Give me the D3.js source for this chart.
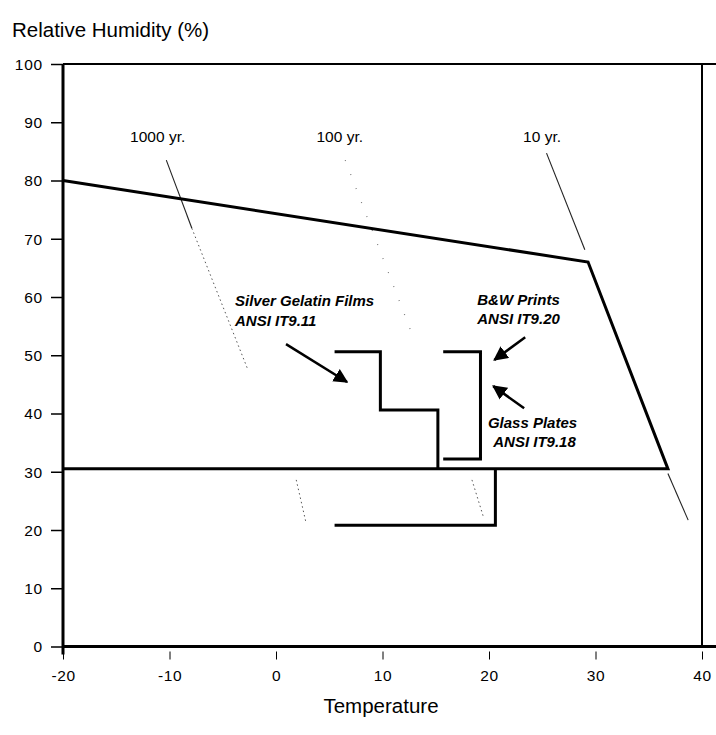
<!DOCTYPE html>
<html>
<meta charset="utf-8">
<style type="text/css">
  body {
    margin: 0;
    background: #fff;
    font-family: "Liberation Sans", Arial, sans-serif;
  }
  .tick text { font-family: "Liberation Sans", Arial, sans-serif; }
</style>
<body>
<script src="https://d3js.org/d3.v7.min.js"></script>
<div id="chart"></div>
<script>
  // axis ticks
  const xTicks = [-20, -10, 0, 10, 20, 30, 40];
  const yTicks = [0, 10, 20, 30, 40, 50, 60, 70, 80, 90, 100];

  // outer storage envelope (temperature, RH)
  const envelope = [[-20, 80], [29.3, 66], [36.8, 30.5], [-20, 30.5]];
  // silver gelatin films steps
  const silverSteps = [[5.5, 50.6], [9.8, 50.6], [9.8, 40.6], [15.2, 40.6], [15.2, 30.5]];
  // b&w prints bracket
  const bwBracket = [[15.7, 50.6], [19.2, 50.6], [19.2, 32.2], [15.7, 32.2]];
  // glass plates lower step
  const glassSteps = [[20.6, 30.5], [20.6, 20.8], [5.5, 20.8]];

  // life expectancy isolines: label, label position, visible segments
  const isoLabels = ["1000 yr.", "100 yr.", "10 yr."];
  const isoLabelPos = [[-13.7, 86.6], [3.8, 86.6], [23.2, 86.6]];
  const isoSegments = [
    [[-10.3, 83.5, -7.9, 71.8, "solid"], [-7.9, 71.8, -2.7, 47.8, "dot"], [1.9, 28.6, 2.8, 21.4, "dot"]],
    [[6.5, 83.5, 12.8, 53.5, "faint"], [18.4, 28.6, 19.5, 22.1, "dot"]],
    [[25.4, 84.7, 29.0, 68.1, "solid"], [36.8, 29.7, 38.7, 21.7, "solid"]]
  ];

  // annotations
  const labels = [
    ["Silver Gelatin Films", -3.85, 58.5],
    ["ANSI IT9.11", -3.85, 55.1],
    ["B&W Prints", 18.9, 58.6],
    ["ANSI IT9.20", 18.9, 55.3],
    ["Glass Plates", 19.9, 37.5],
    ["ANSI IT9.18", 20.4, 34.3]
  ];
  const arrows = [
    [0.94, 51.9, 6.67, 45.4],
    [23.4, 53.1, 20.5, 49.2],
    [23.3, 40.9, 20.4, 44.7]
  ];

  const width = 716, height = 735;

  const svg = d3.select("#chart").append("svg")
    .attr("width", width)
    .attr("height", height);

  const x = d3.scaleLinear().domain([-20, 40]).range([63, 702]);
  const y = d3.scaleLinear().domain([0, 100]).range([646.5, 64]);

  svg.append("defs").append("marker")
    .attr("id", "head")
    .attr("viewBox", "0 0 10 10")
    .attr("refX", 9).attr("refY", 5)
    .attr("markerWidth", 5.8).attr("markerHeight", 5.8)
    .attr("markerUnits", "strokeWidth")
    .attr("orient", "auto")
    .append("path")
    .attr("d", "M0,0 L10,5 L0,10 z")
    .attr("fill", "#000");

  // title and axis label
  svg.append("text")
    .attr("x", 12).attr("y", 37)
    .style("font-size", "20.5px")
    .text("Relative Humidity (%)");

  svg.append("text")
    .attr("x", 381).attr("y", 713)
    .attr("text-anchor", "middle")
    .style("font-size", "20.5px")
    .text("Temperature");

  // y axis
  const yAxis = svg.append("g")
    .attr("transform", "translate(" + x(-20) + ",0)")
    .call(d3.axisLeft(y).tickValues(yTicks).tickFormat(d => String(d)).tickSize(12).tickPadding(8));
  yAxis.select(".domain").remove();
  yAxis.selectAll(".tick line").attr("stroke-width", 1.5);
  yAxis.selectAll(".tick text").style("font-size", "15.5px").style("letter-spacing", "0.8px").attr("dy", "0.35em");

  // x axis
  const xAxis = svg.append("g")
    .attr("transform", "translate(0," + (y(0) + 5) + ")")
    .call(d3.axisBottom(x).tickValues(xTicks).tickFormat(d => String(d)).tickSize(8).tickPadding(10));
  xAxis.select(".domain").remove();
  xAxis.selectAll(".tick line").attr("stroke-width", 1);
  xAxis.selectAll(".tick text").style("font-size", "15.5px").style("letter-spacing", "0.6px");

  // frame
  svg.append("line")
    .attr("x1", x(-20)).attr("x2", x(-20))
    .attr("y1", y(100)).attr("y2", y(0) + 8)
    .attr("stroke", "#000").attr("stroke-width", 3);
  svg.append("line")
    .attr("x1", x(-20)).attr("x2", width)
    .attr("y1", y(0)).attr("y2", y(0))
    .attr("stroke", "#000").attr("stroke-width", 3);
  svg.append("line")
    .attr("x1", x(-20)).attr("x2", width)
    .attr("y1", y(100)).attr("y2", y(100))
    .attr("stroke", "#000").attr("stroke-width", 2.2);
  svg.append("line")
    .attr("x1", x(40)).attr("x2", x(40))
    .attr("y1", y(100)).attr("y2", y(0))
    .attr("stroke", "#000").attr("stroke-width", 2);

  // isolines
  const isoStyle = {
    solid: {w: 1.1, dash: null, c: "#222"},
    dot: {w: 1, dash: "1.5,3", c: "#555"},
    faint: {w: 1.2, dash: "1,14", c: "#777"}
  };
  isoSegments.forEach((segs, i) => {
    segs.forEach(s => {
      const st = isoStyle[s[4]];
      svg.append("line")
        .attr("x1", x(s[0])).attr("y1", y(s[1]))
        .attr("x2", x(s[2])).attr("y2", y(s[3]))
        .attr("stroke", st.c)
        .attr("stroke-width", st.w)
        .attr("stroke-dasharray", st.dash);
    });
    svg.append("text")
      .attr("x", x(isoLabelPos[i][0])).attr("y", y(isoLabelPos[i][1]))
      .style("font-size", "15.5px")
      .text(isoLabels[i]);
  });

  const line = d3.line().x(d => x(d[0])).y(d => y(d[1]));

  [envelope, silverSteps, bwBracket, glassSteps].forEach(pts => {
    svg.append("path")
      .attr("d", line(pts))
      .attr("fill", "none")
      .attr("stroke", "#000")
      .attr("stroke-width", 3)
      .attr("stroke-linejoin", "miter");
  });

  // arrows
  arrows.forEach(a => {
    svg.append("line")
      .attr("x1", x(a[0])).attr("y1", y(a[1]))
      .attr("x2", x(a[2])).attr("y2", y(a[3]))
      .attr("stroke", "#000")
      .attr("stroke-width", 2.5)
      .attr("marker-end", "url(#head)");
  });

  // annotation text
  svg.selectAll("text.note")
    .data(labels)
    .enter()
    .append("text")
    .attr("class", "note")
    .attr("x", d => x(d[1]))
    .attr("y", d => y(d[2]))
    .style("font-size", "15px")
    .style("font-style", "italic")
    .style("font-weight", "bold")
    .text(d => d[0]);
</script>
</body>
</html>
